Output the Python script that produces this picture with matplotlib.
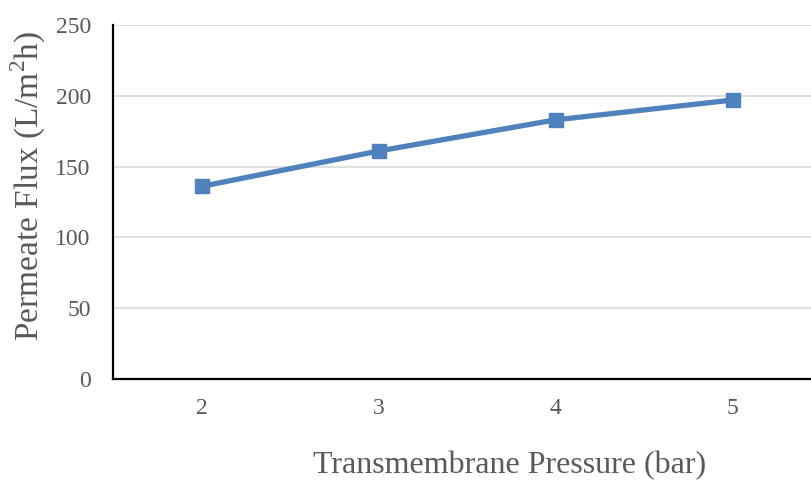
import matplotlib
matplotlib.use("Agg")
import matplotlib.pyplot as plt

pressure = ["2", "3", "4", "5"]
flux = [136, 161, 183, 197]
y_ticks = [0, 50, 100, 150, 200, 250]

plt.rcParams["font.family"] = "Liberation Serif"
plt.rcParams["mathtext.fontset"] = "custom"
plt.rcParams["mathtext.rm"] = "Liberation Serif"

fig = plt.figure(figsize=(8.11, 4.82), dpi=100)
ax = fig.add_axes([113 / 811, 103 / 482, 708 / 811, 354 / 482])

x = range(len(pressure))
ax.plot(x, flux, color="#4F81BD", linewidth=3.8, marker="s", markersize=10.5,
        solid_capstyle="round", zorder=3)

ax.set_xlim(-0.5, len(pressure) - 0.5)
ax.set_ylim(0, 250)
ax.set_yticks(y_ticks)
ax.set_xticks(list(x))
ax.set_xticklabels(pressure)
ax.grid(axis="y", color="#d9d9d9", linewidth=1.2)
ax.set_axisbelow(True)

for s in ["top", "right"]:
    ax.spines[s].set_visible(False)
for s in ["left", "bottom"]:
    ax.spines[s].set_linewidth(1.6)
    ax.spines[s].set_color("black")

ax.tick_params(axis="both", length=0, colors="#595959", labelsize=17)
ax.tick_params(axis="y", pad=16)
ax.tick_params(axis="x", pad=14)

fig.text(28 / 811, 1 - 186 / 482, r"Permeate Flux (L/m$^2$h)", fontsize=24,
         color="#595959", rotation=90, ha="center", va="center")
fig.text(510 / 811, 1 - 466 / 482, "Transmembrane Pressure (bar)", fontsize=23,
         color="#595959", ha="center", va="center")

fig.savefig("out.png", dpi=100)
